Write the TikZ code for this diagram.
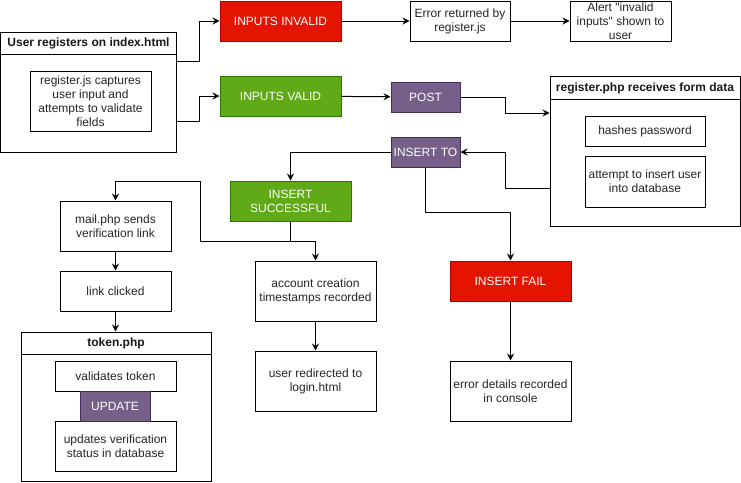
\documentclass[tikz,border=0pt]{standalone}
\usepackage{fontspec}
\setmainfont{Liberation Sans}
\usetikzlibrary{arrows.meta}

\definecolor{failfill}{HTML}{E51400}
\definecolor{failline}{HTML}{B20000}
\definecolor{okfill}{HTML}{60A917}
\definecolor{okline}{HTML}{2D7600}
\definecolor{sqlfill}{HTML}{76608A}
\definecolor{sqlline}{HTML}{432D57}

\tikzset{
  box/.style={draw, line width=1pt, fill=white, align=center, inner sep=0pt,
    text=black!85, font=\fontsize{12}{14}\selectfont},
  failbox/.style={box, fill=failfill, draw=failline, text=white},
  okbox/.style={box, fill=okfill, draw=okline, text=white},
  sqlbox/.style={box, fill=sqlfill, draw=sqlline, text=white},
  groupbox/.style={draw, line width=1pt, fill=white, inner sep=0pt},
  grouptitle/.style={font=\bfseries\fontsize{12}{14}\selectfont, text=black!90},
  flow/.style={line width=1pt, -{Stealth[length=7pt, width=7pt, inset=2.5pt]}}
}

\begin{document}
\begin{tikzpicture}[x=1pt, y=-1pt]
  \useasboundingbox (0,0) rectangle (741,482);

  % Bloco de registo no cliente
  \node[groupbox, minimum width=176pt, minimum height=120pt] (userbox) at (88.5,92) {};
  \node[grouptitle] (usertitle) at (88.5,43) {User registers on index.html};
  \draw[line width=1pt] (userbox.west |- 0,54) -- (userbox.east |- 0,54);
  \node[box, minimum width=121pt, minimum height=60pt] (capture) at (90.5,101)
    {register.js captures\\user input and\\attempts to validate\\fields};

  % Ramo das entradas invalidas
  \node[failbox, minimum width=121pt, minimum height=40pt] (invalid) at (280.5,21) {INPUTS INVALID};
  \node[box, minimum width=100pt, minimum height=40pt] (errjs) at (460,21) {Error returned by\\register.js};
  \node[box, minimum width=101pt, minimum height=40pt] (alert) at (620.5,21)
    {Alert \textquotedbl invalid\\inputs\textquotedbl{} shown to\\user};

  % Ramo das entradas validas
  \node[okbox, minimum width=121pt, minimum height=40pt] (valid) at (280.5,96) {INPUTS VALID};
  \node[sqlbox, minimum width=69pt, minimum height=30pt] (post) at (425.5,97) {POST};
  \node[sqlbox, minimum width=69pt, minimum height=30pt] (insertto) at (425.5,152) {INSERT TO};

  % Bloco do servidor
  \node[groupbox, minimum width=190pt, minimum height=150pt] (phpbox) at (645,151) {};
  \node[grouptitle] (phptitle) at (645,88) {register.php receives form data};
  \draw[line width=1pt] (phpbox.west |- 0,99) -- (phpbox.east |- 0,99);
  \node[box, minimum width=120pt, minimum height=30pt] (hash) at (645,131) {hashes password};
  \node[box, minimum width=120pt, minimum height=51pt] (attempt) at (645,181.5)
    {attempt to insert user\\into database};

  % Resultado da insercao
  \node[failbox, minimum width=121pt, minimum height=40pt] (insfail) at (510.5,281) {INSERT FAIL};
  \node[box, minimum width=121pt, minimum height=60pt] (errcon) at (510.5,391)
    {error details recorded\\in console};
  \node[okbox, minimum width=121pt, minimum height=40pt] (insok) at (290.5,201) {INSERT\\SUCCESSFUL};
  \node[box, minimum width=121pt, minimum height=60pt] (account) at (315.5,291)
    {account creation\\timestamps recorded};
  \node[box, minimum width=121pt, minimum height=60pt] (redirect) at (315.5,381)
    {user redirected to\\login.html};

  % Verificacao por email
  \node[box, minimum width=111pt, minimum height=50pt] (mail) at (115.5,226)
    {mail.php sends\\verification link};
  \node[box, minimum width=111pt, minimum height=40pt] (clicked) at (115.5,291) {link clicked};
  \node[groupbox, minimum width=190pt, minimum height=149pt] (tokenbox) at (116,406.5) {};
  \node[grouptitle] (tokentitle) at (116,343) {token.php};
  \draw[line width=1pt] (tokenbox.west |- 0,354) -- (tokenbox.east |- 0,354);
  \node[box, minimum width=121pt, minimum height=30pt] (validtok) at (115.5,376) {validates token};
  \node[box, minimum width=121pt, minimum height=50pt] (updstat) at (115.5,446)
    {updates verification\\status in database};
  \node[sqlbox, minimum width=70pt, minimum height=30pt] (update) at (115,406) {UPDATE};

  % Ligacoes
  \draw[flow] ([yshift=31pt]userbox.east) -- ++(22,0) |- (invalid);
  \draw[flow] ([yshift=-29pt]userbox.east) -- ++(22,0) |- (valid);
  \draw[flow] (invalid) -- (errjs);
  \draw[flow] (errjs) -- (alert);
  \draw[flow] (valid) -- (post);
  \draw[flow] (post.east) -| ([xshift=-44pt, yshift=38pt]phpbox.west) -- ([yshift=38pt]phpbox.west);
  \draw[flow] ([yshift=-37pt]phpbox.west) -- ++(-44,0) |- (insertto);
  \draw[flow] (insertto.west) -| (insok);
  \draw[flow] (insertto.south) -- ++(0,45) -| (insfail);
  \draw[flow] (insfail) -- (errcon);
  \draw[flow] (insok.south) -- ++(0,20) -| (account);
  \draw[flow] (insok.south) -- ++(0,20) -- ++(-90.5,0) -- ++(0,-60) -| (mail);
  \draw[flow] (mail) -- (clicked);
  \draw[flow] (clicked.south) -- (clicked.south |- tokenbox.north);
  \draw[flow] (account) -- (redirect);
\end{tikzpicture}
\end{document}
